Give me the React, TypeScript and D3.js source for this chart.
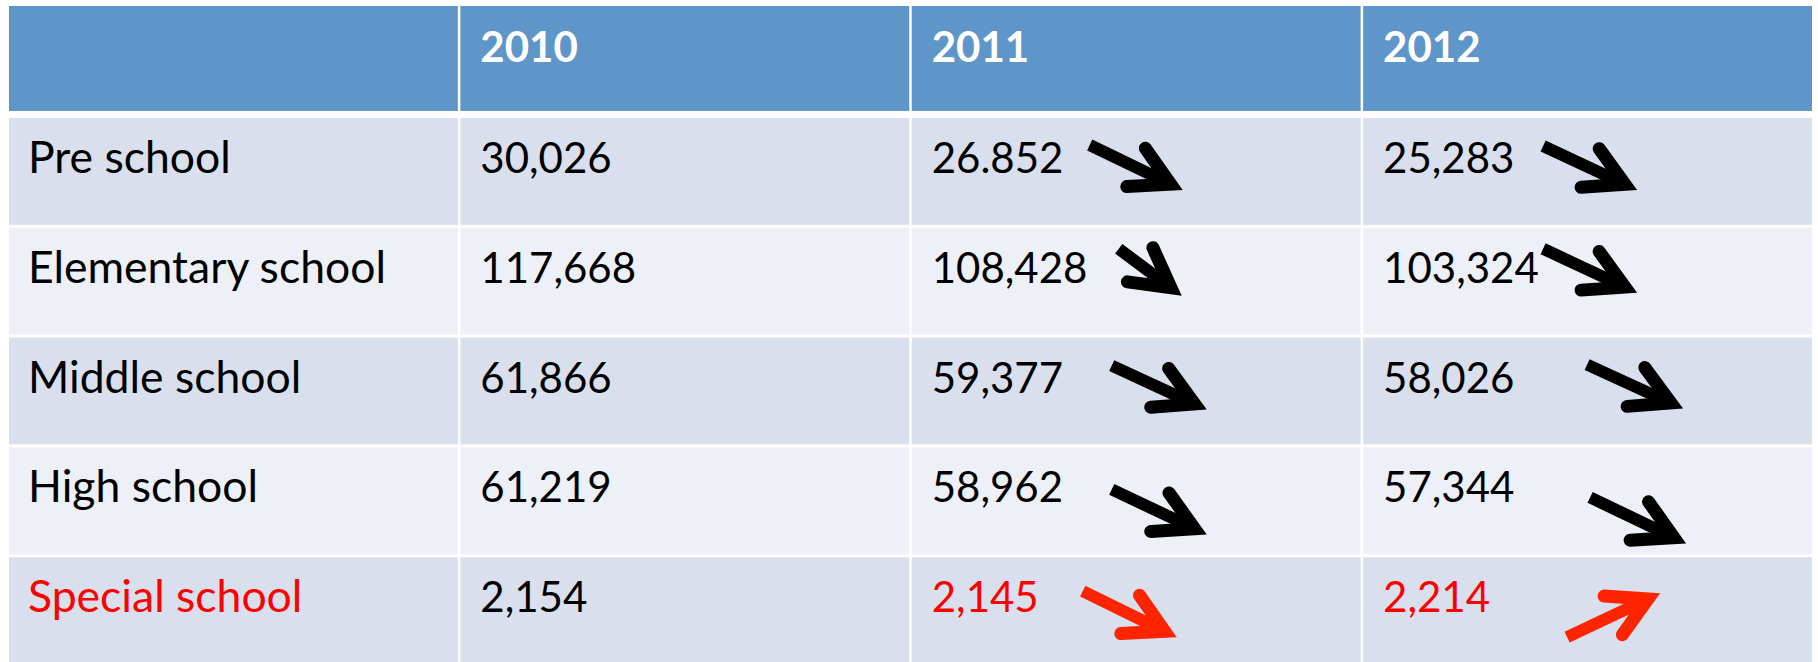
import React from "react";
import * as d3 from "d3";

// ---- data (as shown in the table) ----
const categories = ["Pre school", "Elementary school", "Middle school", "High school", "Special school"];
const years = ["2010", "2011", "2012"];
const values2010 = ["30,026", "117,668", "61,866", "61,219", "2,154"];
const values2011 = ["26.852", "108,428", "59,377", "58,962", "2,145"];
const values2012 = ["25,283", "103,324", "58,026", "57,344", "2,214"];
const highlightCategory = "Special school";

// ---- layout / style (arrow boxes relative to cell: [x, y, w, h]) ----
const arrowBoxes2011 = [[178, 27, 93, 45], [207, 21, 63, 47], [200, 28, 95, 44], [200, 42, 95, 45], [171, 34, 94, 46]];
const arrowBoxes2012 = [[180, 28, 94, 44], [180, 21, 94, 44], [224, 27, 96, 44], [227, 50, 96, 46], [204, 36, 93, 44]];

const W = 1818;
const H = 662;
const HEADER_BG = "#5F96C9";
const ROW_ODD = "#D9DFEC";
const ROW_EVEN = "#EDF0F6";
const RED_TEXT = "#FF0000";
const RED_ARROW = "#FF2400";
const FONT = "Lato, 'Open Sans', sans-serif";
const FS = 42;
const FS_LABEL = 44.5;

const parse = (s: string) => +s.replace(/[.,]/g, "");

function Arrow({ x0, y0, x1, y1, color }: { x0: number; y0: number; x1: number; y1: number; color: string }) {
  const w = 13;
  const half = (29 * Math.PI) / 180;
  const armLen = 44;
  const ang = Math.atan2(y1 - y0, x1 - x0);
  const back = w / 2 / Math.sin(half);
  const tx = x1 - back * Math.cos(ang);
  const ty = y1 - back * Math.sin(ang);
  const a1 = ang + Math.PI - half;
  const a2 = ang + Math.PI + half;
  const line = d3.line();
  const shaft = line([[x0, y0], [tx - 4 * Math.cos(ang), ty - 4 * Math.sin(ang)]]) as string;
  const head = line([
    [tx + armLen * Math.cos(a1), ty + armLen * Math.sin(a1)],
    [tx, ty],
    [tx + armLen * Math.cos(a2), ty + armLen * Math.sin(a2)],
  ]) as string;
  return (
    <g>
      <path d={shaft} stroke={color} strokeWidth={w - 1} fill="none" strokeLinecap="butt" />
      <path d={head} stroke={color} strokeWidth={w} fill="none" strokeLinecap="round" strokeLinejoin="miter" strokeMiterlimit={10} />
    </g>
  );
}

export default function App() {
  const cols = ["", ...years];
  const x = d3.scaleBand<string>().domain(cols).range([9, 1812]).paddingInner(0.0055);
  const step = 109.8;
  const y = d3
    .scaleBand<string>()
    .domain(categories)
    .range([118, 118 + categories.length * step - 3])
    .paddingInner(3 / step);
  const headerTop = 6;
  const headerBottom = 111;
  const bw = x.bandwidth();
  const bh = y.bandwidth();
  const valueCols = [values2010, values2011, values2012];
  const boxCols: Record<string, number[][]> = { "2011": arrowBoxes2011, "2012": arrowBoxes2012 };

  return (
    <svg width={W} height={H} style={{ position: "absolute", left: 0, top: 0, display: "block" }} fontFamily={FONT}>
      <rect x={0} y={0} width={W} height={H} fill="#FFFFFF" />
      {/* header */}
      {cols.map((c) => (
        <g key={"h" + c}>
          <rect x={x(c)} y={headerTop} width={bw} height={headerBottom - headerTop} fill={HEADER_BG} />
          {c && (
            <text x={(x(c) as number) + 20} y={headerTop + 56} fill="#FFFFFF" fontSize={FS} fontWeight={700}>
              {c}
            </text>
          )}
        </g>
      ))}
      {/* body */}
      {categories.map((cat, i) => {
        const top = y(cat) as number;
        const fill = i % 2 === 0 ? ROW_ODD : ROW_EVEN;
        const hl = cat === highlightCategory;
        return (
          <g key={cat}>
            {cols.map((c) => (
              <rect key={c} x={x(c)} y={top} width={bw} height={bh} fill={fill} />
            ))}
            <text x={(x("") as number) + 19} y={top + 55} fontSize={FS_LABEL} fill={hl ? RED_TEXT : "#000000"}>
              {cat}
            </text>
            {years.map((yr, j) => (
              <text
                key={yr}
                x={(x(yr) as number) + 20}
                y={top + 55}
                fontSize={FS}
                fill={hl && j > 0 ? RED_TEXT : "#000000"}
              >
                {valueCols[j][i]}
              </text>
            ))}
            {years.slice(1).map((yr, k) => {
              const prev = parse(valueCols[k][i]);
              const cur = parse(valueCols[k + 1][i]);
              const up = cur > prev;
              const [bx, by, bwid, bht] = boxCols[yr][i];
              const cx = x(yr) as number;
              const x0 = cx + bx;
              const x1 = cx + bx + bwid;
              const y0 = up ? top + by + bht : top + by;
              const y1 = up ? top + by : top + by + bht;
              return <Arrow key={yr} x0={x0} y0={y0} x1={x1} y1={y1} color={hl ? RED_ARROW : "#000000"} />;
            })}
          </g>
        );
      })}
    </svg>
  );
}
